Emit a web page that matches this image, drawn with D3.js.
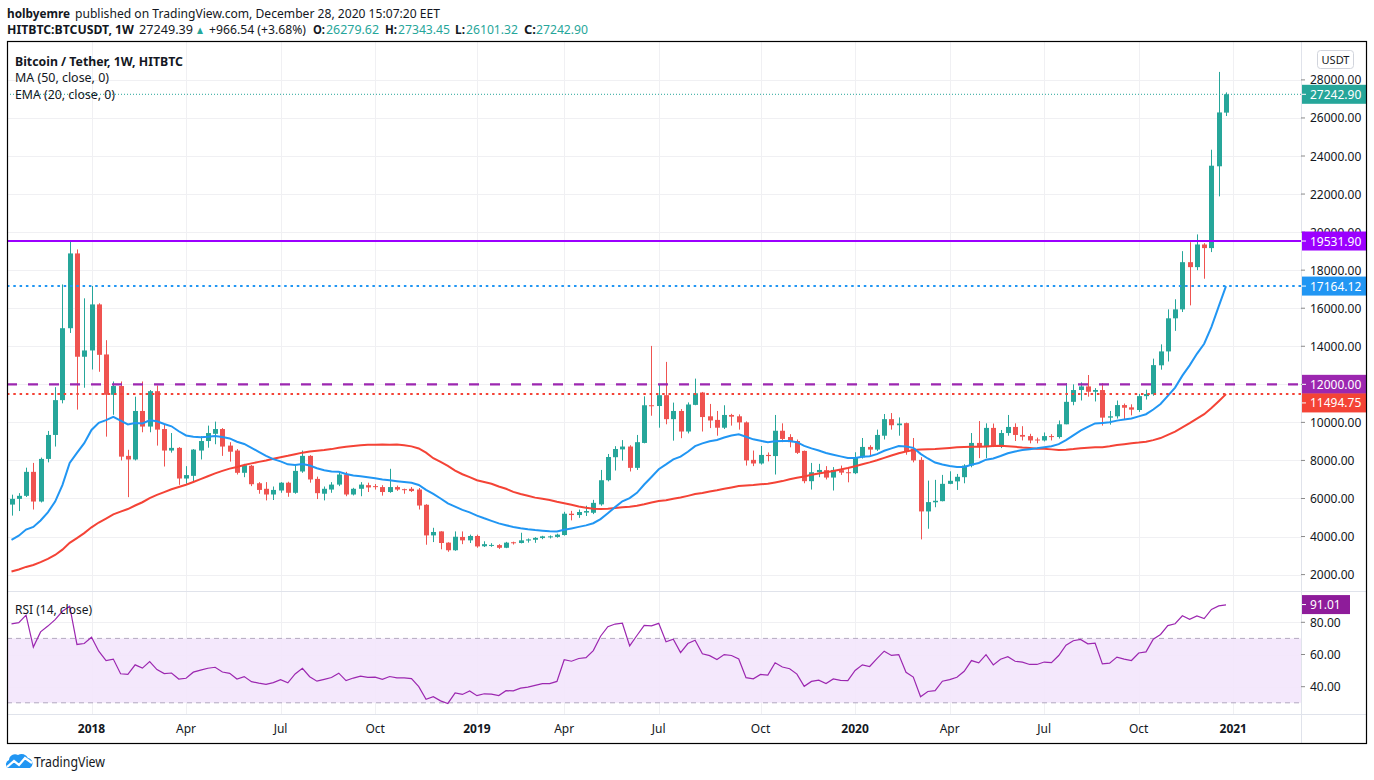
<!DOCTYPE html>
<html><head><meta charset="utf-8">
<script src="https://cdn.jsdelivr.net/npm/d3@7"></script>
<style>
body{margin:0;background:#fff;}
svg{display:block;font-family:"Noto Sans","Open Sans",sans-serif;}
</style>
</head><body>
<svg id="c" width="1374" height="780"></svg>
<script>
// ---------------- DATA ----------------
const firstWeek = "2017-10-16";   // Monday of the first weekly bar
// weekly candles [open, high, low, close]
const candles = [
[5680,6200,5100,5980],[5980,6280,5340,6140],[6140,7620,6080,7400],[7400,7870,5420,5840],
[5840,8150,5790,8080],[8080,9550,7900,9340],[9340,11850,8730,11170],[11170,17250,11000,14950],
[14950,19531.9,14700,18880],[18880,19090,10670,13450],[13450,16520,11820,13780],
// 2018
[13780,17170,12780,16200],[16200,16260,12660,13550],[13570,14320,9250,11450],[11450,12150,10400,11910],
[11910,12150,8000,8200],[8240,8560,6070,8050],[8050,11350,8000,10600],[10600,12150,9480,9780],
[9780,11700,9480,11640],[11640,11940,8780,9620],[9650,9900,7680,8520],[8520,9440,8410,8660],
[8660,8700,6720,7050],[7050,7700,6770,7230],[7190,8600,6860,8570],[8520,9270,8050,9020],
[9020,9830,8670,9440],[9400,10040,8850,9650],[9650,9700,8240,8730],[8780,8960,7940,8460],
[8520,8600,7260,7350],[7350,7820,7120,7750],[7720,7760,6650,6750],[6800,6860,6250,6450],
[6510,6860,5900,6210],[6210,6630,5920,6450],[6420,6860,6300,6830],[6830,6880,6090,6300],
[6300,7770,6250,7450],[7420,8520,7350,8240],[8240,8280,6830,7000],[7030,7150,5970,6280],
[6250,6630,5900,6510],[6470,6860,6300,6730],[6730,7420,6650,7260],[7260,7400,6120,6210],
[6210,6560,6160,6510],[6510,6860,6120,6730],[6700,6830,6340,6580],[6650,6760,6470,6600],
[6600,6700,6150,6340],[6340,7560,6300,6600],[6600,6680,6400,6470],[6490,6520,6250,6460],
[6510,6600,6340,6390],[6470,6550,5420,5630],[5670,5700,3570,4060],[4060,4460,3710,4240],
[4270,4280,3330,3660],[3680,3700,3200,3280],[3280,4270,3250,3990],[3980,4270,3600,3800],
[3800,4100,3660,4030],
// 2019
[4030,4100,3410,3480],[3490,3750,3450,3600],[3540,3650,3460,3560],[3550,3600,3350,3410],
[3410,3720,3390,3680],[3700,3730,3580,3660],[3660,4200,3640,3800],[3790,3900,3680,3850],
[3830,3970,3670,3930],[3920,4040,3860,4010],[3990,4060,3900,4010],[3980,4150,3940,4100],
[4080,5300,4050,5200],[5200,5350,4850,5130],[5130,5420,4980,5290],[5260,5620,5080,5340],
[5250,5930,5180,5770],[5690,7500,5620,6960],[6960,8340,6900,8180],[8170,8750,7470,8600],
[8580,9070,7990,8730],[8730,8800,7420,7610],[7610,9340,7500,8960],[8920,11370,8900,10900],
[10900,14020,10350,10860],[10860,12010,9720,11430],[11430,13180,9900,10170],[10170,11040,9040,10600],
[10600,10700,9170,9520],[9520,11050,9420,10940],[10920,12300,10900,11530],[11570,11600,9520,10280],
[10320,10970,9700,10100],[10130,10600,9300,9720],[9720,10900,9650,10390],[10390,10450,9830,10300],
[10320,10420,9620,10000],[10000,10050,7730,8000],[8030,8520,7700,7840],[7840,8760,7780,8290],
[8290,8420,7950,8230],[8230,10390,7260,9560],[9560,9950,8960,9130],[9230,9380,8690,8960],
[9020,9100,8340,8400],[8500,8520,6800,6910],[6910,7870,6470,7380],[7380,7820,7120,7500],
[7490,7700,7000,7100],[7100,7650,6420,7500],[7490,7730,7240,7360],[7380,7620,6850,7330],
// 2020
[7330,8430,7280,8180],[8160,9180,8100,8710],[8710,8800,8250,8570],[8570,9620,8500,9340],
[9300,10440,9100,10170],[10170,10490,9620,9850],[9850,10260,9300,9940],[9960,9990,8300,8480],
[8620,9180,7900,8000],[8030,8170,3850,5320],[5320,6940,4410,5810],[5800,6980,5540,5880],
[5860,7240,5850,6770],[6770,7430,6750,6930],[6900,7290,6450,7140],[7120,7800,6800,7730],
[7730,9440,7640,8920],[8920,10070,8120,8700],[8700,9950,8120,9710],[9710,9940,8700,8720],
[8720,9600,8650,9440],[9440,10390,9300,9760],[9760,9950,9020,9340],[9340,9800,9050,9250],
[9280,9400,8900,9050],[9100,9200,8900,9050],[9050,9470,9000,9280],[9280,9380,9050,9230],
[9230,10100,9150,9900],[9900,12060,9900,11080],[11080,12000,10900,11700],[11700,12100,11150,11890],
[11890,12490,11350,11610],[11610,11800,11100,11700],[11700,12060,9830,10250],[10250,10600,9880,10320],
[10320,11150,10200,10910],[10910,10990,10150,10770],[10790,10950,10370,10670],[10650,11500,10550,11380],
[11380,11720,11200,11490],[11480,13350,11400,13010],[13000,14100,12770,13730],[13730,15940,13200,15470],
[15470,16470,14810,15940],[15940,19000,15800,18420],[18420,19470,16150,18160],[18160,19880,18000,19350],
[19350,19420,17550,19160],[19160,24330,18950,23490],[23460,28420,21880,26290],[26279.62,27343.45,26101.32,27242.90]
];
// weekly closes before the first visible bar (Oct 31 2016 .. Oct 9 2017), needed by MA/EMA/RSI
const priorCloses = [703,705,730,730,765,775,790,895,1000,905,820,920,920,1020,1000,1050,1170,1270,
1230,1020,970,1090,1190,1180,1240,1420,1560,1770,2050,2200,2550,2950,2500,2600,2500,2500,1960,
2750,2750,3200,4050,4100,4350,4600,4200,3700,3780,4350,4600,5700];

const priceTicks = [2000,4000,6000,8000,10000,12000,14000,16000,18000,20000,22000,24000,26000,28000];
const rsiTicks = [40,60,80];
const rsiBand = [30,70];
const lastClose = 27242.90;
const resistance = 19531.90;
const emaLast = 17164.12;
const supportLevel = 12000.00;
const maLast = 11494.75;
const rsiLast = 91.01;
const header1 = ["holbyemre","published on TradingView.com, December 28, 2020 15:07:20 EET"];
const quote = {symbol:"HITBTC:BTCUSDT, 1W", last:"27249.39", change:"+966.54 (+3.68%)",
  o:"26279.62", h:"27343.45", l:"26101.32", c:"27242.90"};
const legendLines = ["Bitcoin / Tether, 1W, HITBTC","MA (50, close, 0)","EMA (20, close, 0)"];

// ---------------- INDICATORS ----------------
const closes = priorCloses.concat(candles.map(d=>d[3]));
const P = priorCloses.length;
const ma50 = candles.map((d,i)=>d3.mean(closes.slice(P+i-49, P+i+1)));
const emaAll = [];
{ let e = d3.mean(closes.slice(0,20)); for(let j=20;j<closes.length;j++){ e = closes[j]*2/21 + e*19/21; emaAll[j]=e; } }
const ema20 = candles.map((d,i)=>emaAll[P+i]);
const rsiAll = [];
{ let g=0,l=0; for(let j=1;j<=14;j++){const ch=closes[j]-closes[j-1]; g+=Math.max(ch,0); l+=Math.max(-ch,0);} g/=14; l/=14;
  rsiAll[14]=100-100/(1+g/l);
  for(let j=15;j<closes.length;j++){const ch=closes[j]-closes[j-1]; g=(g*13+Math.max(ch,0))/14; l=(l*13+Math.max(-ch,0))/14; rsiAll[j]=100-100/(1+g/l);} }
const rsi = candles.map((d,i)=>rsiAll[P+i]);

// ---------------- LAYOUT ----------------
const svg = d3.select("#c");
const L=7, R=1301, RA=1366, T=41, PB=591, RB=714.5, B=743;
const x = d3.scaleLinear().domain([11,167]).range([91.5,1226]);
const y = d3.scaleLinear().domain([2000,28000]).range([574.6,79.9]);
const yr = d3.scaleLinear().domain([40,80]).range([686.7,622.3]);
const green="#26a69a", red="#ef5350", grid="#f0f0f3", sep="#e0e3eb", txt="#131722";

const t0 = new Date(firstWeek+"T00:00:00Z");
const dates = d3.range(candles.length+1).map(i=>d3.utcDay.offset(t0,7*i));

svg.append("rect").attr("width",1374).attr("height",780).attr("fill","#fff");
const defs = svg.append("defs");
defs.append("clipPath").attr("id","cp").append("rect").attr("x",L).attr("y",T).attr("width",R-L).attr("height",PB-T);
defs.append("clipPath").attr("id","cr").append("rect").attr("x",L).attr("y",PB).attr("width",R-L).attr("height",RB-PB);

// time labels
const tlabels=[];
for(let i=1;i<dates.length;i++){
  const m=dates[i].getUTCMonth(), pm=dates[i-1].getUTCMonth();
  if(m!==pm && m%3===0) tlabels.push({i, text: m===0? String(dates[i].getUTCFullYear()) : d3.utcFormat("%b")(dates[i]), year:m===0});
}
// grid
svg.append("g").selectAll("line").data(tlabels).join("line")
  .attr("x1",d=>Math.round(x(d.i))+0.5).attr("x2",d=>Math.round(x(d.i))+0.5).attr("y1",T).attr("y2",RB)
  .attr("stroke",grid);
svg.append("g").selectAll("line").data(priceTicks.filter(v=>y(v)>T+2)).join("line")
  .attr("x1",L).attr("x2",R).attr("y1",d=>Math.round(y(d))+0.5).attr("y2",d=>Math.round(y(d))+0.5).attr("stroke",grid);
svg.append("g").selectAll("line").data(rsiTicks).join("line")
  .attr("x1",L).attr("x2",R).attr("y1",d=>Math.round(yr(d))+0.5).attr("y2",d=>Math.round(yr(d))+0.5).attr("stroke",grid);

// RSI band
svg.append("rect").attr("x",L).attr("width",R-L).attr("y",yr(rsiBand[1])).attr("height",yr(rsiBand[0])-yr(rsiBand[1]))
  .attr("fill","#f3e6fc").attr("opacity",0.9);
svg.append("g").selectAll("line").data(rsiBand).join("line")
  .attr("x1",L).attr("x2",R).attr("y1",d=>yr(d)).attr("y2",d=>yr(d))
  .attr("stroke","#b3a9c0").attr("stroke-dasharray","5,4");

// separators
svg.append("line").attr("x1",L).attr("x2",RA).attr("y1",PB+0.5).attr("y2",PB+0.5).attr("stroke",sep);
svg.append("line").attr("x1",L).attr("x2",RA).attr("y1",RB).attr("y2",RB).attr("stroke",sep);
svg.append("line").attr("x1",R+0.5).attr("x2",R+0.5).attr("y1",T).attr("y2",B).attr("stroke",sep);

// candles
const gp = svg.append("g").attr("clip-path","url(#cp)");
const cg = gp.append("g").selectAll("g").data(candles).join("g")
  .attr("fill",d=>d[3]>=d[0]?green:red).attr("stroke",d=>d[3]>=d[0]?green:red);
cg.append("line").attr("x1",(d,i)=>Math.round(x(i))+0.5).attr("x2",(d,i)=>Math.round(x(i))+0.5)
  .attr("y1",d=>y(d[1])).attr("y2",d=>y(d[2])).attr("stroke-width",1);
cg.append("rect").attr("x",(d,i)=>Math.round(x(i))-2).attr("width",5)
  .attr("y",d=>y(Math.max(d[0],d[3]))).attr("height",d=>Math.max(1,Math.abs(y(d[0])-y(d[3]))))
  .attr("stroke","none");

// MA / EMA
const lineP = d3.line().x((d,i)=>x(i)).y(d=>y(d));
gp.append("path").datum(ma50).attr("d",lineP).attr("fill","none").attr("stroke","#f44336").attr("stroke-width",2);
gp.append("path").datum(ema20).attr("d",lineP).attr("fill","none").attr("stroke","#2196f3").attr("stroke-width",2);

// level lines
gp.append("line").attr("x1",L).attr("x2",R).attr("y1",y(lastClose)).attr("y2",y(lastClose))
  .attr("stroke",green).attr("stroke-width",1).attr("stroke-dasharray","1,2");
gp.append("line").attr("x1",L).attr("x2",R).attr("y1",y(resistance)).attr("y2",y(resistance))
  .attr("stroke","#9c00ff").attr("stroke-width",2);
gp.append("line").attr("x1",L).attr("x2",R).attr("y1",y(emaLast)).attr("y2",y(emaLast))
  .attr("stroke","#2196f3").attr("stroke-width",2).attr("stroke-dasharray","2.5,3.8");
gp.append("line").attr("x1",L).attr("x2",R).attr("y1",y(supportLevel)).attr("y2",y(supportLevel))
  .attr("stroke","#9c27b0").attr("stroke-width",2.2).attr("stroke-dasharray","10,11");
gp.append("line").attr("x1",L).attr("x2",R).attr("y1",y(maLast)).attr("y2",y(maLast))
  .attr("stroke","#f44336").attr("stroke-width",2).attr("stroke-dasharray","2.5,3.8");

// RSI line
const lineR = d3.line().x((d,i)=>x(i)).y(d=>yr(d));
svg.append("g").attr("clip-path","url(#cr)").append("path").datum(rsi).attr("d",lineR)
  .attr("fill","none").attr("stroke","#9c27b0").attr("stroke-width",1.2);

// right axis
const ax = svg.append("g").attr("font-size",12).attr("fill",txt);
ax.selectAll("text.p").data(priceTicks).join("text").attr("class","p")
  .attr("x",1310).attr("y",d=>y(d)+4.5).text(d=>d3.format(".2f")(d));
ax.selectAll("line.p").data(priceTicks).join("line").attr("class","p")
  .attr("x1",R).attr("x2",R+4).attr("y1",d=>y(d)).attr("y2",d=>y(d)).attr("stroke","#8a8a8a");
ax.selectAll("text.r").data(rsiTicks).join("text").attr("class","r")
  .attr("x",1310).attr("y",d=>yr(d)+4.5).text(d=>d3.format(".2f")(d));
ax.selectAll("line.r").data(rsiTicks).join("line").attr("class","r")
  .attr("x1",R).attr("x2",R+4).attr("y1",d=>yr(d)).attr("y2",d=>yr(d)).attr("stroke","#8a8a8a");

// USDT box
svg.append("rect").attr("x",1317.5).attr("y",50.5).attr("width",36).attr("height",18).attr("rx",3)
  .attr("fill","#fff").attr("stroke","#d1d4dc");
svg.append("text").attr("x",1335.5).attr("y",63.5).attr("text-anchor","middle").attr("font-size",11)
  .attr("fill",txt).text("USDT");

// price labels
function tag(val, cy, color, w){
  svg.append("rect").attr("x",R+1).attr("y",cy-9.5).attr("width",w).attr("height",19).attr("fill",color);
  svg.append("line").attr("x1",R+1).attr("x2",R+5).attr("y1",cy).attr("y2",cy).attr("stroke","#fff");
  svg.append("text").attr("x",1310).attr("y",cy+4.5).attr("font-size",12).attr("fill","#fff")
    .text(d3.format(".2f")(val));
}
tag(lastClose, y(lastClose), green, RA-R-1);
tag(resistance, y(resistance), "#9c00ff", RA-R-1);
tag(emaLast, y(emaLast), "#2196f3", RA-R-1);
tag(supportLevel, y(supportLevel), "#9c27b0", RA-R-1);
tag(maLast, y(supportLevel)+18.6, "#f44336", RA-R-1);
tag(rsiLast, yr(rsiLast), "#8e1c9a", 48);

// time axis labels
svg.append("g").selectAll("text").data(tlabels).join("text")
  .attr("x",d=>x(d.i)).attr("y",733).attr("text-anchor","middle").attr("font-size",12)
  .attr("font-weight",d=>d.year?700:400).attr("fill",txt).text(d=>d.text);

// frame
svg.append("rect").attr("x",L+0.5).attr("y",T+0.5).attr("width",RA-L).attr("height",B-T)
  .attr("fill","none").attr("stroke","#000").attr("stroke-width",1.2);

// header
function txtL(s,xx,yy,w,opt={}){
  const t=svg.append("text").attr("x",xx).attr("y",yy).attr("font-size",opt.size||13).attr("fill",opt.fill||txt)
    .attr("font-weight",opt.bold?700:400).text(s);
  if(w) t.attr("textLength",w).attr("lengthAdjust","spacingAndGlyphs");
  return t;
}
txtL(header1[0],7,17.5,63,{bold:true});
txtL(header1[1],75,17.5,365);
txtL(quote.symbol,7,34,127,{bold:true});
txtL(quote.last,139,34,54);
txtL("\u25B2",195,34,10,{fill:green,size:11});
txtL(quote.change,209,34,97);
txtL("O:",313,34,12,{bold:true});
txtL(quote.o,326,34,53,{fill:green});
txtL("H:",385,34,12,{bold:true});
txtL(quote.h,398,34,52,{fill:green});
txtL("L:",455,34,10,{bold:true});
txtL(quote.l,466,34,52,{fill:green});
txtL("C:",524,34,12,{bold:true});
txtL(quote.c,536,34,52,{fill:green});

txtL(legendLines[0],15,66,168,{bold:true,size:12.5});
txtL(legendLines[1],15,82,94,{size:12.5});
txtL(legendLines[2],15,99,100,{size:12.5});
txtL("RSI (14, close)",15,614,77,{size:12.5});

// logo
const lg = svg.append("g").attr("transform","translate(6,753)");
lg.append("path").attr("d","M2,15 A4.5,4.5 0 0 1 3,7 A6,6 0 0 1 12,2 A7,7 0 0 1 22,5 A5.5,5.5 0 0 1 24,15 Z").attr("fill","#2196f3");
lg.append("polyline").attr("points","1,14 8,8 13,12 19,5 26,10").attr("fill","none").attr("stroke","#fff").attr("stroke-width",2.2);
txtL("TradingView",34,767,71,{size:13.5});
</script>
</body></html>
